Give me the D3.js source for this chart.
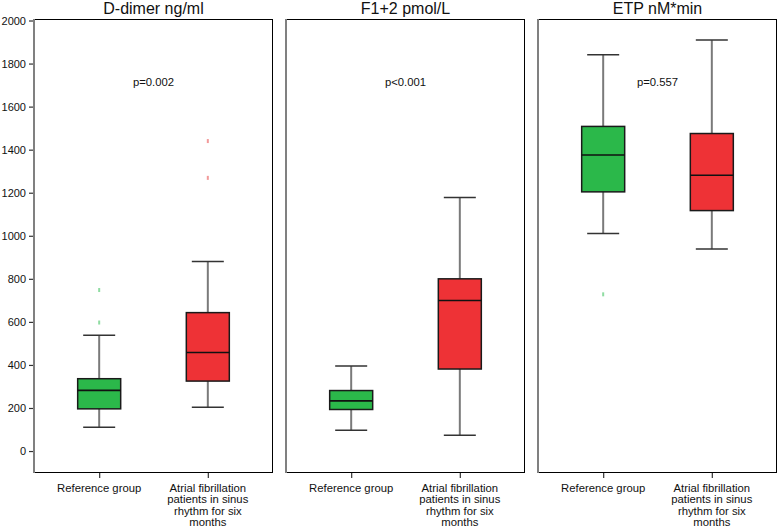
<!DOCTYPE html>
<html>
<head>
<meta charset="utf-8">
<script src="https://cdn.jsdelivr.net/npm/d3@7"></script>
<style>
  html, body { margin: 0; padding: 0; background: #fff; }
  svg { display: block; font-family: "Liberation Sans", Arial, Helvetica, sans-serif; }
</style>
</head>
<body>
<svg id="chart" width="778" height="527"></svg>
<script>
// ---- data ----
const panelTitles = ["D-dimer ng/ml", "F1+2 pmol/L", "ETP nM*min"];
const pValues = ["p=0.002", "p<0.001", "p=0.557"];
const categories = ["Reference group", "Atrial fibrillation patients in sinus rhythm for six months"];
const categoryLines = [["Reference group"], ["Atrial fibrillation", "patients in sinus", "rhythm for six", "months"]];
const yTicks = [0, 200, 400, 600, 800, 1000, 1200, 1400, 1600, 1800, 2000];

// [lower whisker, Q1, median, Q3, upper whisker]
const ddimerRef = [111, 196, 282, 336, 538];
const ddimerAF  = [204, 325, 458, 643, 880];
const f12Ref    = [97, 193, 233, 281, 395];
const f12AF     = [73, 381, 699, 800, 1178];
const etpRef    = [1011, 1204, 1375, 1508, 1841];
const etpAF     = [938, 1117, 1281, 1475, 1909];

const ddimerRefOut = [597, 748];
const ddimerAFOut  = [1269, 1440];
const f12RefOut    = [];
const f12AFOut     = [];
const etpRefOut    = [728];
const etpAFOut     = [];

const panels = [
  { title: panelTitles[0], p: pValues[0], boxes: [ddimerRef, ddimerAF], outliers: [ddimerRefOut, ddimerAFOut] },
  { title: panelTitles[1], p: pValues[1], boxes: [f12Ref, f12AF], outliers: [f12RefOut, f12AFOut] },
  { title: panelTitles[2], p: pValues[2], boxes: [etpRef, etpAF], outliers: [etpRefOut, etpAFOut] }
];

const boxColors = ["#2bb84a", "#ee3236"];
const outlierColors = ["#8fdca2", "#f29a9a"];

// ---- layout ----
const svg = d3.select("#chart");
const plotTop = 19, plotBottom = 473;
const panelX = [[34, 273], [286, 525], [538, 777]];

const y = d3.scaleLinear().domain([-102, 2007]).range([plotBottom, plotTop]);

// y axis on first panel
const yAxisG = svg.append("g").attr("transform", `translate(${panelX[0][0]},0)`)
  .call(d3.axisLeft(y).tickValues(yTicks).tickSize(5).tickPadding(3).tickFormat(d3.format("d")));
yAxisG.select(".domain").remove();
yAxisG.selectAll(".tick line").attr("stroke", "#333").attr("stroke-width", 1.2);
yAxisG.selectAll(".tick text").attr("font-size", 11).attr("fill", "#111")
  .attr("font-family", '"Liberation Sans", Arial, sans-serif');

panels.forEach((pd, i) => {
  const [x0, x1] = panelX[i];
  const g = svg.append("g");
  const x = d3.scalePoint().domain(categories).range([x0, x1]).padding(0.6);

  // title
  g.append("text").attr("x", (x0 + x1) / 2).attr("y", 14)
    .attr("text-anchor", "middle").attr("font-size", 16).attr("fill", "#111").text(pd.title);

  // frame: top/right/bottom black, left grey
  g.append("line").attr("x1", x0).attr("x2", x1).attr("y1", plotTop + 0.5).attr("y2", plotTop + 0.5).attr("stroke", "#000").attr("stroke-width", 1);
  g.append("line").attr("x1", x1 - 0.5).attr("x2", x1 - 0.5).attr("y1", plotTop).attr("y2", plotBottom).attr("stroke", "#000").attr("stroke-width", 1);
  g.append("line").attr("x1", x0).attr("x2", x1).attr("y1", plotBottom - 0.5).attr("y2", plotBottom - 0.5).attr("stroke", "#000").attr("stroke-width", 1);
  g.append("line").attr("x1", x0).attr("x2", x0).attr("y1", plotTop).attr("y2", plotBottom).attr("stroke", "#808080").attr("stroke-width", 2);

  // x axis ticks + labels
  const xAxisG = g.append("g").attr("transform", `translate(0,${plotBottom})`)
    .call(d3.axisBottom(x).tickSize(5).tickFormat(""));
  xAxisG.select(".domain").remove();
  xAxisG.selectAll(".tick line").attr("stroke", "#333").attr("stroke-width", 1.2);

  categories.forEach((c, j) => {
    const t = g.append("text").attr("text-anchor", "middle").attr("font-size", 11.3).attr("fill", "#111");
    categoryLines[j].forEach((ln, k) => {
      t.append("tspan").attr("x", x(c)).attr("y", 492 + k * 11.3).text(ln);
    });
  });

  // p value
  g.append("text").attr("x", (x0 + x1) / 2).attr("y", 86)
    .attr("text-anchor", "middle").attr("font-size", 11.3).attr("fill", "#111").text(pd.p);

  const boxW = 43, capW = 32;
  pd.boxes.forEach((b, j) => {
    const cx = x(categories[j]);
    const [lo, q1, med, q3, hi] = b;
    // whiskers
    g.append("line").attr("x1", cx).attr("x2", cx).attr("y1", y(q3)).attr("y2", y(hi))
      .attr("stroke", "#7a7a7a").attr("stroke-width", 2);
    g.append("line").attr("x1", cx).attr("x2", cx).attr("y1", y(q1)).attr("y2", y(lo))
      .attr("stroke", "#7a7a7a").attr("stroke-width", 2);
    g.append("line").attr("x1", cx - capW / 2).attr("x2", cx + capW / 2).attr("y1", y(hi)).attr("y2", y(hi))
      .attr("stroke", "#333").attr("stroke-width", 1.5);
    g.append("line").attr("x1", cx - capW / 2).attr("x2", cx + capW / 2).attr("y1", y(lo)).attr("y2", y(lo))
      .attr("stroke", "#333").attr("stroke-width", 1.5);
    // box
    g.append("rect").attr("x", cx - boxW / 2).attr("y", y(q3)).attr("width", boxW).attr("height", y(q1) - y(q3))
      .attr("fill", boxColors[j]).attr("stroke", "#1a1a1a").attr("stroke-width", 1.5);
    // median
    g.append("line").attr("x1", cx - boxW / 2).attr("x2", cx + boxW / 2).attr("y1", y(med)).attr("y2", y(med))
      .attr("stroke", "#111").attr("stroke-width", 1.6);
    // outliers
    pd.outliers[j].forEach(v => {
      g.append("rect").attr("x", cx - 1).attr("y", y(v) - 2).attr("width", 2).attr("height", 4)
        .attr("fill", outlierColors[j]);
    });
  });
});
</script>
</body>
</html>
